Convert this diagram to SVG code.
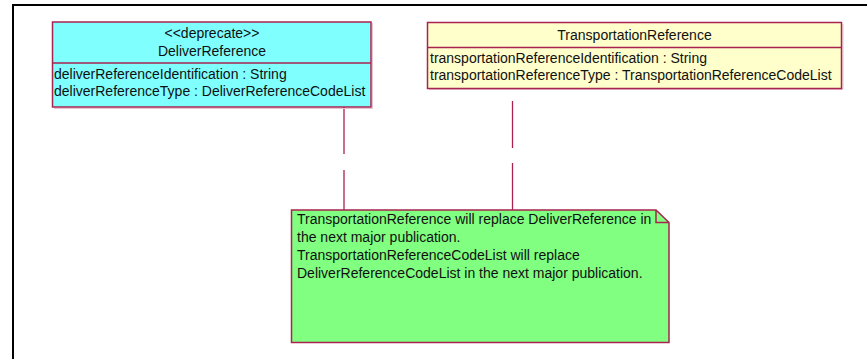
<svg xmlns="http://www.w3.org/2000/svg" width="867" height="359" viewBox="0 0 867 359">
<style>
text{font-family:"Liberation Sans",Arial,sans-serif;font-size:14px;fill:#111}
.c{text-anchor:middle}
.box{stroke:#A8234F;stroke-width:1.5}
.ln{stroke:#A8234F;stroke-width:1.3;fill:none}
.sh{stroke:#E7C3CF;stroke-width:1;fill:none}
</style>
<rect width="867" height="359" fill="#fff"/>
<g id="frame">
<line x1="12" y1="5" x2="867" y2="5" stroke="#000" stroke-width="2"/>
<line x1="13" y1="4" x2="13" y2="359" stroke="#000" stroke-width="2"/>
</g>
<g id="connectors">
<line class="ln" x1="344" y1="107" x2="344" y2="154"/>
<line class="ln" x1="344" y1="170" x2="344" y2="210"/>
<line class="ln" x1="512.5" y1="101" x2="512.5" y2="148"/>
<line class="ln" x1="512.5" y1="163" x2="512.5" y2="210"/>
</g>
<g id="DeliverReference">
<polyline class="sh" points="372.5,23 372.5,108.5 54,108.5"/>
<rect class="box" x="52.5" y="22" width="318.5" height="85" fill="#80FFFF"/>
<line class="box" x1="52.5" y1="63" x2="371" y2="63"/>
<text class="c" x="212" y="38">&lt;&lt;deprecate&gt;&gt;</text>
<text class="c" x="212" y="56">DeliverReference</text>
<text x="54" y="79">deliverReferenceIdentification : String</text>
<text x="54" y="96">deliverReferenceType : DeliverReferenceCodeList</text>
</g>
<g id="TransportationReference">
<polyline class="sh" points="843,24 843,89.5 429,89.5"/>
<rect class="box" x="427.5" y="22.5" width="414" height="66" fill="#FFFFCC"/>
<line class="box" x1="427.5" y1="47.5" x2="841.5" y2="47.5"/>
<text class="c" x="634.5" y="40">TransportationReference</text>
<text x="430" y="62.5">transportationReferenceIdentification : String</text>
<text x="430" y="79.5">transportationReferenceType : TransportationReferenceCodeList</text>
</g>
<g id="note">
<path class="box" d="M291.5,210 H656 L669,222.5 V342.5 H291.5 Z" fill="#80FF80"/>
<path class="box" d="M656,210 V222.5 H669" fill="none"/>
<text x="297" y="224">TransportationReference will replace DeliverReference in</text>
<text x="297" y="242">the next major publication.</text>
<text x="297" y="260">TransportationReferenceCodeList will replace</text>
<text x="297" y="278">DeliverReferenceCodeList in the next major publication.</text>
</g>
</svg>
